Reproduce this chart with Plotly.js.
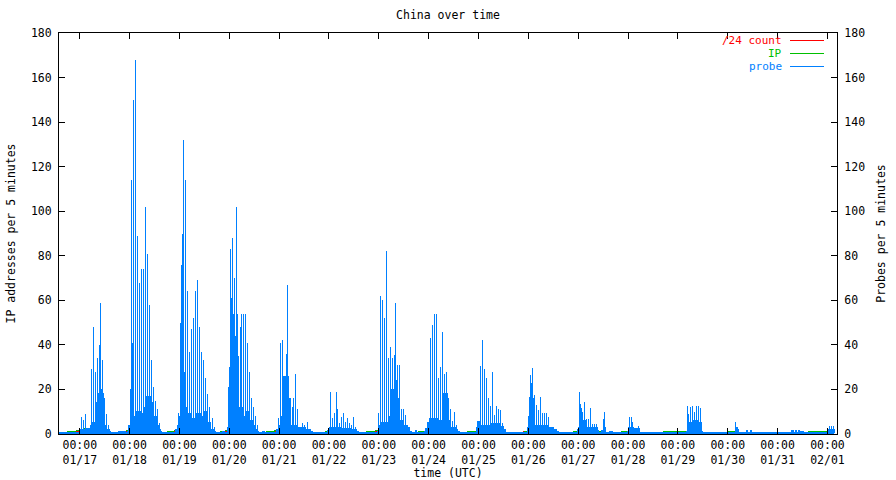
<!DOCTYPE html>
<html><head><meta charset="utf-8">
<script src="https://cdn.plot.ly/plotly-3.0.1.min.js"></script>
<style>
html,body{margin:0;padding:0;background:#fff;}
#chart{width:896px;height:480px;}
.js-line{shape-rendering:crispEdges;}
.shapelayer path{shape-rendering:crispEdges;}
</style></head><body><div id="chart"></div>
<script>
// time axis: hours since 01/17 00:00 UTC
const tickHours = [0,24,48,72,96,120,144,168,192,216,240,264,288,312,336,360];
const tickTimes = ["00:00","00:00","00:00","00:00","00:00","00:00","00:00","00:00","00:00","00:00","00:00","00:00","00:00","00:00","00:00","00:00"];
const tickDates = ["01/17","01/18","01/19","01/20","01/21","01/22","01/23","01/24","01/25","01/26","01/27","01/28","01/29","01/30","01/31","02/01"];
const yTicks = [0,20,40,60,80,100,120,140,160,180];

// probe: background level (step profile) per 5 minutes
const probeBaseT = [-10.0,-0.14,3.22,5.15,6.11,7.80,8.76,9.72,10.44,11.41,12.13,13.09,14.29,15.02,18.62,21.99,
 23.20,23.68,24.64,27.28,29.21,31.14,32.10,34.02,35.47,36.91,37.87,38.84,39.32,46.30,47.02,
 48.22,50.15,51.35,53.28,55.68,58.09,60.01,61.46,62.90,64.35,65.31,68.68,69.64,
 71.08,71.80,72.28,72.76,73.73,74.93,76.13,78.30,80.22,81.67,83.11,84.56,85.52,86.00,87.93,88.89,
 94.66,95.87,97.07,97.55,100.29,101.40,104.28,108.62,111.02,111.98,
 119.21,120.17,125.46,130.27,133.16,134.12,
 143.27,143.75,145.19,148.56,149.53,151.45,153.14,153.62,155.78,157.23,158.67,159.63,161.56,162.04,
 165.89,166.61,167.33,168.29,172.14,175.27,177.20,178.40,180.81,181.77,182.73,
 190.91,191.63,193.07,197.65,202.46,204.14,204.86,
 215.45,216.18,216.66,218.58,225.56,227.97,229.41,230.37,
 239.52,240.24,240.48,243.85,249.14,249.86,251.07,252.03,252.99,254.92,256.36,
 263.58,264.30,266.47,269.36,
 292.21,292.45,295.34,297.26,299.19,299.67,
 315.80,316.52,317.00,320.85,321.33,322.77,323.25,
 342.50,343.46,344.57,345.05,345.87,346.35,346.84,348.28,
 359.83,360.31,363.20];
const probeBaseV = [0.5,2,2.5,4,5,14,18,20,18,12,4,2,1,0.5,1.2,0.5,
 1,4,8,10,9,12,17,14,8,4,2,1,0.5,2,4,
 8,12,9,7,9,8,10,5,2,1,0.5,1,0.5,
 3,8,30,50,40,30,12,8,10,6,4,2,1,0.5,1.2,0.5,
 2,4,8,26,5,4,3,2,1,0.5,
 1.5,3,2.5,2,1,0.5,
 1,4,5,8,20,24,16,6,4,3,1,0.5,1.5,0.5,
 1,2.5,5,7,6,18,6,3,2,1,0.5,
 2.8,5.5,4,4.5,3.5,2,0.5,
 2.7,8,16,4,3,2,1,0.5,
 1.9,3,6,3,1.5,0.5,1.5,3,0.5,1.2,0.5,
 1,3,2.5,0.5,
 1,5,6,5,1,0.5,
 3,2,0.5,1.5,0.5,1.5,0.5,
 1.5,0.5,1.5,0.5,1.5,0.5,1.2,0.5,
 1,2,0.5];

// probe: individual 5-minute peaks
const probeSpikeT = [0.82,1.78,2.74,5.63,6.59,7.56,8.52,9.48,9.96,10.92,11.89,12.85,13.81,
 24.40,24.88,25.36,25.84,26.81,27.77,28.73,29.69,30.66,31.62,32.58,33.54,34.51,35.47,36.43,37.39,38.36,
 47.50,48.46,48.94,49.42,49.91,50.39,50.87,51.83,52.79,53.76,54.72,55.68,56.64,57.61,58.57,59.53,60.49,61.46,62.42,63.86,64.82,
 71.71,72.52,73.00,73.49,73.97,74.45,74.93,75.41,75.89,76.37,77.34,77.82,78.78,79.74,80.71,81.67,82.63,83.59,84.56,85.52,
 95.62,96.59,97.69,98.66,99.47,100.10,101.06,101.54,102.22,102.84,103.95,104.91,107.03,108.14,109.73,
 120.79,121.76,122.72,123.68,124.16,125.13,126.09,127.05,128.01,128.98,129.94,130.90,131.86,132.83,
 143.89,144.86,145.82,146.78,147.74,148.71,149.67,150.63,151.59,152.08,153.04,154.00,154.96,155.93,156.89,157.85,
 168.77,169.74,170.70,171.66,172.62,173.59,174.55,175.51,176.47,177.44,178.40,179.36,180.32,181.29,
 192.98,193.94,194.91,195.87,196.83,197.79,198.76,199.72,200.68,201.64,202.61,203.57,
 216.42,217.04,217.53,218.01,218.97,219.93,220.89,221.86,222.82,223.78,224.74,225.71,226.67,227.63,
 240.63,241.11,241.59,242.07,243.03,244.00,244.96,245.92,246.88,247.84,248.81,252.17,252.66,
 264.54,265.51,265.99,268.87,
 292.60,293.08,294.04,295.01,295.97,296.93,297.89,298.86,
 315.55,
 360.79,361.75,362.72];
const probeSpikeV = [7.6,6.4,9,29,48,28,34,40,59,33,16,9,4,
 20,114,41,150,168,89,68,74,74,102,81,58,33,21,15,11,5,
 9.5,50,76,90,132,28,114,64,37,47,52,64,69,48,37,33,25,18,12,7,3,
 21,83,61,88,54,70,44,102,54,35,48,54,54,54,41,28,16,12,8,4,
 7,41,42,26,36,67,16,16,12,16,27,11,5,4,5.6,
 19,7,9.5,19,11,5,7.6,9.5,5.6,7,5,4,7.7,3,
 9.4,62,60,52,82,34,39,34,35.5,59,31,31,11,11,8.6,4,
 43,49,54,54,25,30,46,27,28,16,11,6,10,4,
 30.6,42,29,25,16,12.7,28,8.6,12.7,11.3,10.6,5,
 16.4,26.6,23,29.7,17.6,13.1,10.6,16.4,9.5,9.5,9.5,7.7,3,3,
 18.8,13.6,11.8,9.9,14.3,6.9,6.6,11.8,4.6,4.6,4.6,6.9,9.7,
 7.7,7.7,5.3,3.7,
 12.7,9.1,12,12.7,9.7,12.7,12.7,11.8,
 5.4,
 3.4,3.7,3.4];

// distinct source IPs per 5 minutes
const ipT = [-10,-0.1,2.74,3.2,15,23.5,30.66,31.2,39.3,47,57.61,58.1,65.3,71,78.78,79.3,86,
 95.2,95.7,112,119.5,129.94,130.4,134,143.4,159.6,166.8,167.3,182.7,191.5,192.3,199.72,200.2,204.9,
 215.6,216.1,230.4,239.6,244.0,244.5,252.2,252.7,256.4,263.7,264.1,269.4,292.3,294.1,297.4,299.4,299.7,
 315.7,317,359.9,362.6,363.2];
const ipV = [0.5,1.5,2.8,1.5,0.5,1.5,6.4,2,0.5,1.5,3,2,0.5,1.5,2.2,1.5,0.5,
 1.5,1.3,0.5,1,1.3,1,0.5,1.5,0.5,1.5,1.5,0.5,1.5,1.5,1.2,1,0.5,
 1.2,1,0.5,1,1.6,1,1.2,1,0.5,1,1.2,0.5,1.3,1,1.3,1.2,0.5,
 1,0.5,1,1.4,0.5];

// distinct /24 networks per 5 minutes
const countT = [-10,-0.1,15,23.5,39.3,47,65.3,71,86,95.2,112,119.5,134,143.4,159.6,166.8,182.7,191.5,204.9,
 215.6,230.4,239.6,256.4,263.7,269.4,292.3,299.7,315.7,317,359.9,363.2];
const countV = [0.5,1.2,0.5,1.2,0.5,1.2,0.5,1.2,0.5,1.2,0.5,1,0.5,1.2,0.5,1.2,0.5,1.2,0.5,
 1,0.5,1,0.5,1,0.5,1,0.5,1,0.5,1,0.5];

const RED = '#ff0000', GREEN = '#00c000', BLUE = '#0080ff';
const FONT = '"DejaVu Sans Mono", "Liberation Mono", monospace';

const spikeX = [], spikeY = [];
probeSpikeT.forEach((t, i) => { spikeX.push(t, t, null); spikeY.push(0, probeSpikeV[i], null); });

const traces = [
  {name:'/24 count', x:countT, y:countV, type:'scatter', mode:'lines', line:{color:RED, width:1}, yaxis:'y', hoverinfo:'skip'},
  {name:'IP', x:ipT, y:ipV, type:'scatter', mode:'lines', line:{color:GREEN, width:1}, yaxis:'y', hoverinfo:'skip'},
  {name:'probe', x:probeBaseT, y:probeBaseV, type:'scatter', mode:'lines', line:{color:BLUE, width:1, shape:'hv'},
   fill:'tozeroy', fillcolor:BLUE, yaxis:'y2', hoverinfo:'skip'},
  {name:'probe peaks', x:spikeX, y:spikeY, type:'scatter', mode:'lines', line:{color:BLUE, width:1},
   yaxis:'y2', hoverinfo:'skip', connectgaps:false}
];

const L = 59, R = 837, T = 33, B = 434;
const px = v => (v - L) / (R - L);
const py = v => (B - v) / (B - T);

const legendItems = [
  {text:'/24 count', color:RED, y:40.5},
  {text:'IP', color:GREEN, y:53.5},
  {text:'probe', color:BLUE, y:66.5}
];
const annotations = legendItems.map(it => ({
  xref:'paper', yref:'paper', x:px(783), y:py(it.y), xanchor:'right', yanchor:'middle',
  text:it.text, showarrow:false, borderpad:0, font:{family:FONT, size:11, color:it.color}
}));
const shapes = legendItems.map(it => ({
  type:'line', xref:'paper', yref:'paper', x0:px(790), x1:px(824), y0:py(it.y), y1:py(it.y),
  line:{color:it.color, width:1.2}
}));

const tickText = tickTimes.map((t, i) => t + '<br>' + tickDates[i]);

const layout = {
  width:896, height:480,
  margin:{l:L, r:896-R, t:T, b:480-B, pad:0},
  paper_bgcolor:'#fff', plot_bgcolor:'#fff',
  font:{family:FONT, size:11.5, color:'#000'},
  showlegend:false,
  title:{text:'China over time', x:0.5, xanchor:'center', y:1-15/480, yanchor:'middle', yref:'container',
         font:{family:FONT, size:11.5, color:'#000'}},
  xaxis:{range:[-10.0, 364.6], tickmode:'array', tickvals:tickHours, ticktext:tickText,
         ticks:'inside', ticklen:6, tickcolor:'#000', showline:true, linecolor:'#000', linewidth:1,
         mirror:'ticks', showgrid:false, zeroline:false,
         title:{text:'time (UTC)', standoff:5, font:{family:FONT, size:11.5}}},
  yaxis:{range:[0,180], tickmode:'array', tickvals:yTicks, ticks:'inside', ticklen:6, tickcolor:'#000',
         showline:true, linecolor:'#000', linewidth:1, showgrid:false, zeroline:false,
         ticklabelstandoff:4,
         title:{text:'IP addresses per 5 minutes', standoff:12, font:{family:FONT, size:11.5}}},
  yaxis2:{range:[0,180], overlaying:'y', side:'right', tickmode:'array', tickvals:yTicks,
         ticks:'inside', ticklen:6, tickcolor:'#000', showline:true, linecolor:'#000', linewidth:1,
         showgrid:false, zeroline:false, ticklabelstandoff:4,
         title:{text:'Probes per 5 minutes', standoff:12, font:{family:FONT, size:11.5}}},
  annotations:annotations,
  shapes:shapes
};

Plotly.newPlot('chart', traces, layout, {staticPlot:true, displayModeBar:false});
</script></body></html>
